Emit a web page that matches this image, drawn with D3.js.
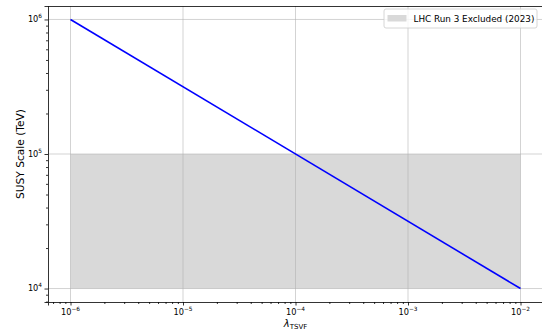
<!DOCTYPE html>
<html>
<head>
<meta charset="utf-8">
<script src="https://cdn.jsdelivr.net/npm/d3@7"></script>
<style>
  body { margin: 0; background: white; }
  svg { display: block; font-family: "DejaVu Sans", sans-serif; }
</style>
</head>
<body>
<svg></svg>
<script>
// Data
const lambdaValues = [1e-6, 1e-2];
const susyScale = [1e6, 1e4];
const excludedBand = [1e4, 1e5];
const xTickExps = [-6, -5, -4, -3, -2];
const yTickExps = [4, 5, 6];
const legendLabel = "LHC Run 3 Excluded (2023)";

const width = 542, height = 330;
const margin = { top: 6, right: -1, bottom: 28, left: 48 };

const svg = d3.select("svg").attr("width", width).attr("height", height);

// log scales with matplotlib-like 5% padding (in log space)
const xPad = Math.pow(10, 0.2);
const yPad = Math.pow(10, 0.1);
const x = d3.scaleLog()
    .domain([1e-6 / xPad, 1e-2 * xPad])
    .range([margin.left, width - margin.right]);
const y = d3.scaleLog()
    .domain([1e4 / yPad, 1e6 * yPad])
    .range([height - margin.bottom, margin.top]);

// shrink/grow a text so it spans a given width
function fitText(sel, target) {
    const base = +sel.attr("font-size");
    const w = sel.node().getComputedTextLength();
    if (w > 0) sel.attr("font-size", base * target / w);
}

const plot = svg.append("g");

// excluded band
plot.append("rect")
    .attr("x", x(lambdaValues[0]))
    .attr("width", x(lambdaValues[1]) - x(lambdaValues[0]))
    .attr("y", y(excludedBand[1]))
    .attr("height", y(excludedBand[0]) - y(excludedBand[1]))
    .attr("fill", "#d9d9d9");

// grid
const xMajors = xTickExps.map(e => Math.pow(10, e));
const yMajors = yTickExps.map(e => Math.pow(10, e));
plot.selectAll(".gx").data(xMajors).enter().append("line")
    .attr("x1", d => x(d)).attr("x2", d => x(d))
    .attr("y1", margin.top).attr("y2", height - margin.bottom)
    .attr("stroke", "#b0b0b0").attr("stroke-opacity", 0.7).attr("stroke-width", 0.8);
plot.selectAll(".gy").data(yMajors).enter().append("line")
    .attr("x1", margin.left).attr("x2", width - margin.right)
    .attr("y1", d => y(d)).attr("y2", d => y(d))
    .attr("stroke", "#b0b0b0").attr("stroke-opacity", 0.7).attr("stroke-width", 0.8);

// line
const pts = lambdaValues.map((v, i) => [v, susyScale[i]]);
plot.append("path")
    .datum(pts)
    .attr("d", d3.line().x(d => x(d[0])).y(d => y(d[1])))
    .attr("fill", "none")
    .attr("stroke", "#0000ff")
    .attr("stroke-width", 1.6);

// minor ticks
function minors(scale) {
    const [a, b] = scale.domain();
    const out = [];
    for (let e = Math.floor(Math.log10(a)); e <= Math.ceil(Math.log10(b)); e++) {
        for (let m = 2; m <= 9; m++) {
            const v = m * Math.pow(10, e);
            if (v >= a && v <= b) out.push(v);
        }
    }
    return out;
}

svg.append("g")
    .attr("transform", `translate(0,${height - margin.bottom})`)
    .call(d3.axisBottom(x).tickValues(xMajors).tickSize(3.5).tickFormat(""));
svg.append("g")
    .attr("transform", `translate(0,${height - margin.bottom})`)
    .call(d3.axisBottom(x).tickValues(minors(x)).tickSize(2).tickFormat(""))
    .call(g => g.select(".domain").remove());

svg.append("g")
    .attr("transform", `translate(${margin.left},0)`)
    .call(d3.axisLeft(y).tickValues(yMajors).tickSize(3.5).tickFormat(""));
svg.append("g")
    .attr("transform", `translate(${margin.left},0)`)
    .call(d3.axisLeft(y).tickValues(minors(y)).tickSize(2).tickFormat(""))
    .call(g => g.select(".domain").remove());

svg.selectAll(".tick line").attr("stroke", "#000").attr("stroke-width", 0.8);
svg.selectAll(".domain").attr("stroke", "#000").attr("stroke-width", 0.8);

// top spine
svg.append("line")
    .attr("x1", margin.left).attr("x2", width - margin.right)
    .attr("y1", margin.top + 0.5).attr("y2", margin.top + 0.5)
    .attr("stroke", "#000").attr("stroke-width", 0.8);

// tick labels with superscript exponents
xTickExps.forEach(e => {
    const t = svg.append("text")
        .attr("x", x(Math.pow(10, e)))
        .attr("y", height - margin.bottom + 12.5)
        .attr("text-anchor", "middle")
        .attr("font-size", 8.2)
        .attr("fill", "#000");
    t.append("tspan").text("10");
    t.append("tspan").attr("dy", -4).attr("font-size", 5.8).text("\u2212" + Math.abs(e));
});
yTickExps.forEach(e => {
    const t = svg.append("text")
        .attr("x", margin.left - 6)
        .attr("y", y(Math.pow(10, e)) + 2.8)
        .attr("text-anchor", "end")
        .attr("font-size", 8.2)
        .attr("fill", "#000");
    t.append("tspan").text("10");
    t.append("tspan").attr("dy", -4).attr("font-size", 5.8).text(e);
});

// axis labels
const xl = svg.append("text")
    .attr("x", (x(1e-6) + x(1e-2)) / 2)
    .attr("y", height - 3.5)
    .attr("text-anchor", "middle")
    .attr("font-size", 10)
    .attr("fill", "#000");
xl.append("tspan").attr("font-style", "italic").text("\u03bb");
xl.append("tspan").attr("dy", 2).attr("font-size", 7).text("TSVF");

const yl = svg.append("text")
    .attr("transform", `translate(23.5,${(margin.top + height - margin.bottom) / 2}) rotate(-90)`)
    .attr("text-anchor", "middle")
    .attr("font-size", 10)
    .attr("fill", "#000")
    .text("SUSY Scale (TeV)");
fitText(yl, 90);

// legend
const lg = svg.append("g").attr("transform", "translate(384,9)");
lg.append("rect")
    .attr("width", 153).attr("height", 19).attr("rx", 2)
    .attr("fill", "white").attr("fill-opacity", 0.8)
    .attr("stroke", "#cccccc").attr("stroke-width", 0.8);
lg.append("rect")
    .attr("x", 3.5).attr("y", 6).attr("width", 19).attr("height", 6.5)
    .attr("fill", "#d9d9d9");
const lt = lg.append("text")
    .attr("x", 29.5).attr("y", 13.3)
    .attr("font-size", 10)
    .attr("fill", "#000")
    .text(legendLabel);
fitText(lt, 121);
</script>
</body>
</html>
